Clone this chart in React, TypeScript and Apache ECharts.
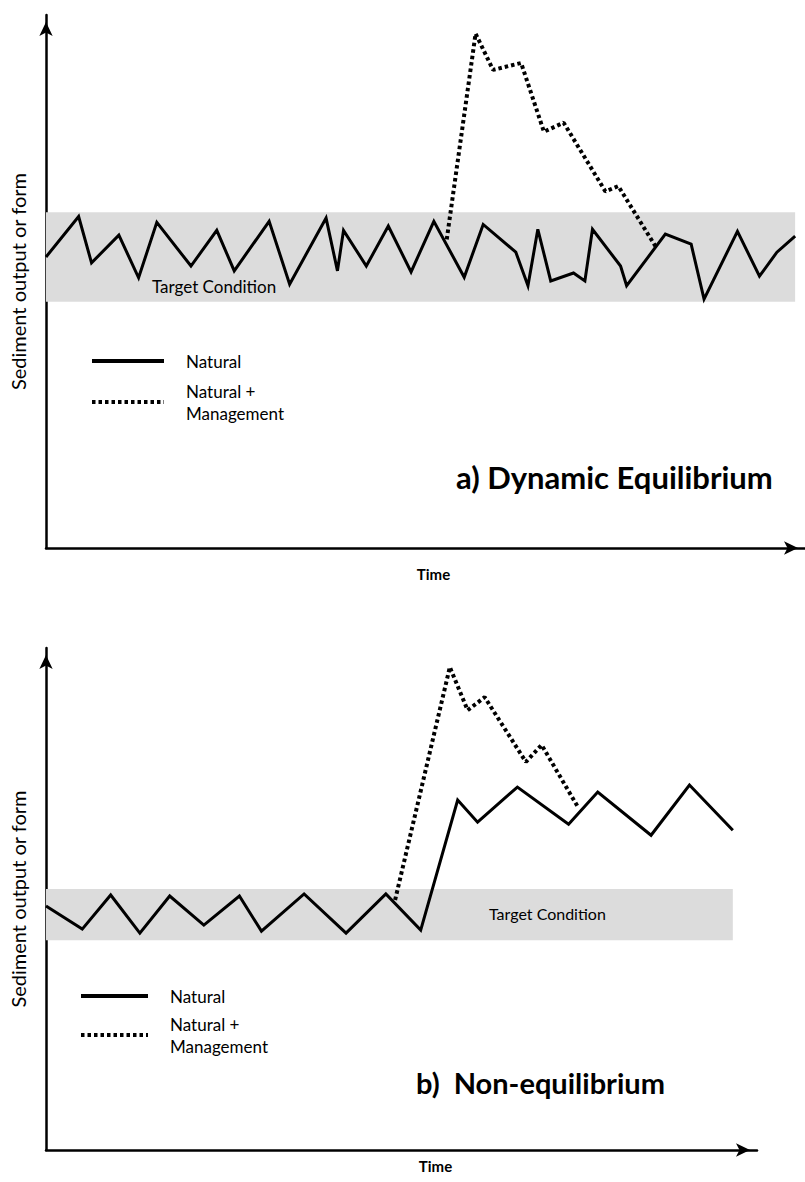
import React, { useEffect, useRef } from 'react';
import * as echarts from 'echarts';

// ---- Panel a) Dynamic Equilibrium ----
const topTime = [0, 4.3, 6.0, 9.6, 12.2, 14.6, 19.1, 22.5, 24.8, 29.4, 32.1, 36.9, 38.4, 39.2, 42.2, 45.1, 48.1, 51.1, 55.1, 57.6, 61.9, 63.5, 64.8, 66.5, 69.5, 71.0, 72.0, 75.7, 76.5, 81.6, 85.0, 86.7, 91.1, 94.0, 96.3, 98.7];
const topNatural = [54.6, 62.2, 53.5, 58.7, 50.7, 61.1, 52.9, 59.6, 52.0, 61.3, 49.5, 61.9, 52.0, 59.6, 52.9, 60.4, 51.8, 61.3, 50.8, 60.7, 55.5, 49.2, 59.8, 50.1, 51.6, 50.1, 59.8, 52.9, 49.2, 58.9, 57.0, 46.7, 59.4, 51.0, 55.5, 58.5];
const topMgmtTime = [52.8, 56.6, 58.9, 62.6, 65.6, 68.2, 73.7, 75.4, 80.3];
const topMgmt = [57.9, 96.5, 89.7, 91.0, 78.1, 79.8, 66.9, 67.9, 56.6];
const topBand = { x0: 0, x1: 98.7, y0: 46.2, y1: 63.0 };

// ---- Panel b) Non-equilibrium ----
const botTime = [0, 5.1, 9.1, 13.2, 17.4, 22.2, 27.2, 30.3, 36.3, 42.2, 47.8, 52.7, 57.9, 60.7, 66.3, 73.5, 77.6, 85.1, 90.5, 96.6];
const botNatural = [48.6, 44.0, 50.8, 43.2, 50.6, 44.8, 50.6, 43.6, 51.0, 43.2, 51.0, 43.8, 69.7, 65.3, 72.3, 64.9, 71.3, 62.7, 72.7, 63.7];
const botMgmtTime = [49.1, 56.8, 59.3, 61.7, 67.5, 69.7, 74.9];
const botMgmt = [49.8, 96.2, 87.6, 90.2, 77.3, 80.7, 68.1];
const botBand = { x0: 0, x1: 96.6, y0: 41.8, y1: 52.0 };

const seriesNames = ['Natural', 'Natural + Management'];
const bandLabel = 'Target Condition';
const xName = 'Time';
const yName = 'Sediment output or form';
const titles = ['a) Dynamic Equilibrium', 'b)  Non-equilibrium'];

const FONT = 'Lato';

const pairs = (xs: number[], ys: number[]) => xs.map((x, i) => [x, ys[i]]);

const axisLine = {
  show: true,
  lineStyle: { color: '#000', width: 2.5 },
  symbol: ['none', 'arrow'],
  symbolSize: [10, 14],
  symbolOffset: [0, -7],
};

function xAxis(gridIndex: number, nameGap: number, pad: number) {
  return {
    type: 'value', gridIndex, min: 0, max: 100,
    axisLine, axisTick: { show: false }, axisLabel: { show: false }, splitLine: { show: false },
    name: xName, nameLocation: 'middle', nameGap,
    nameTextStyle: { fontFamily: FONT, fontSize: 15, fontWeight: 'bold', color: '#000', padding: [0, 0, 0, pad] },
  };
}
function yAxis(gridIndex: number) {
  return {
    type: 'value', gridIndex, min: 0, max: 100,
    axisLine, axisTick: { show: false }, axisLabel: { show: false }, splitLine: { show: false },
    name: yName, nameLocation: 'middle', nameGap: 18, nameRotate: 90,
    nameTextStyle: { fontFamily: FONT, fontSize: 20, color: '#000' },
  };
}

function natural(idx: number, xs: number[], ys: number[], band: any, labelPos: number[], labelSize: number) {
  return {
    type: 'line', name: seriesNames[0], xAxisIndex: idx, yAxisIndex: idx,
    data: pairs(xs, ys), symbol: 'none', silent: true, z: 3,
    lineStyle: { color: '#000', width: 3, join: 'miter' },
    itemStyle: { color: '#000' },
    markArea: {
      silent: true,
      itemStyle: { color: '#dcdcdc' },
      label: {
        show: true, position: labelPos, align: 'left', verticalAlign: 'middle',
        fontFamily: FONT, fontSize: labelSize, color: '#000',
      },
      data: [[{ name: bandLabel, coord: [band.x0, band.y0] }, { coord: [band.x1, band.y1] }]],
    },
  };
}
function mgmt(idx: number, xs: number[], ys: number[]) {
  return {
    type: 'line', name: seriesNames[1], xAxisIndex: idx, yAxisIndex: idx,
    data: pairs(xs, ys), symbol: 'none', silent: true, z: 4,
    lineStyle: { color: '#000', width: 4, type: [3.5, 3], cap: 'butt' },
    itemStyle: { color: '#000' },
  };
}

function legend(left: number, top: number, itemWidth: number, gap: number) {
  return {
    left, top, padding: 0, orient: 'vertical', itemWidth, itemHeight: 14, itemGap: gap,
    selectedMode: false, data: seriesNames,
    itemStyle: { opacity: 0 },
    lineStyle: { width: 4 },
    formatter: (n: string) => (n === seriesNames[1] ? 'Natural +\nManagement' : n),
    textStyle: { fontFamily: FONT, fontSize: 17, color: '#000', lineHeight: 22, padding: [0, 0, 0, 17] },
  };
}

const option: any = {
  animation: false,
  backgroundColor: '#fff',
  grid: [
    { left: 44, top: 15, width: 761, height: 533 },
    { left: 44, top: 648, width: 713, height: 502 },
  ],
  xAxis: [xAxis(0, 18, 16), xAxis(1, 8, 68)],
  yAxis: [yAxis(0), yAxis(1)],
  legend: [legend(90, 350, 72, 8), legend(79, 985, 67, 6)],
  series: [
    natural(0, topTime, topNatural, topBand, [106, 74], 17),
    mgmt(0, topMgmtTime, topMgmt),
    natural(1, botTime, botNatural, botBand, [443, 25], 16),
    mgmt(1, botMgmtTime, botMgmt),
  ],
  graphic: [
    { type: 'text', x: 456, y: 477, style: { text: titles[0], fontFamily: FONT, fontWeight: 'bold', fontSize: 31, fill: '#000', verticalAlign: 'middle' } },
    { type: 'text', x: 416, y: 1082, style: { text: titles[1], fontFamily: FONT, fontWeight: 'bold', fontSize: 29, fill: '#000', verticalAlign: 'middle' } },
  ],
};

export default function App() {
  const ref = useRef<HTMLDivElement>(null);
  useEffect(() => {
    document.body.style.margin = '0';
    const chart = echarts.init(ref.current!, null, { renderer: 'svg' });
    chart.setOption(option);
    return () => chart.dispose();
  }, []);
  return <div ref={ref} style={{ width: 805, height: 1182 }} />;
}
